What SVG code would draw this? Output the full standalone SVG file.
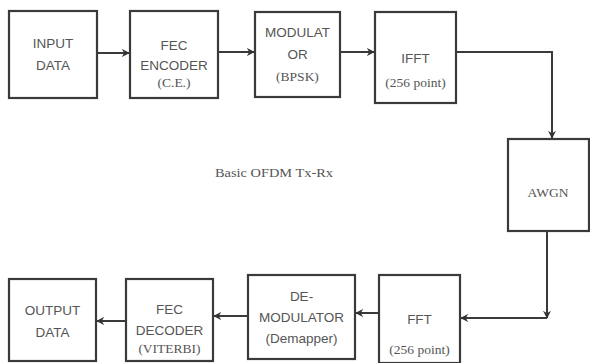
<svg xmlns="http://www.w3.org/2000/svg" width="590" height="363" viewBox="0 0 590 363">
<defs>
<marker id="ah" viewBox="0 0 10 10" refX="9" refY="5" markerWidth="8" markerHeight="8" markerUnits="userSpaceOnUse" orient="auto">
<path d="M0,0 L10,5 L0,10 L3,5 Z" fill="#333"/>
</marker>
<style>
.box{fill:#fff;stroke:#3a3a3a;stroke-width:2.2}
.s{font-family:"Liberation Sans","DejaVu Sans",sans-serif;font-size:13.5px;fill:#555;text-anchor:middle}
.r{font-family:"Liberation Serif","DejaVu Serif",serif;font-size:13.5px;fill:#555;text-anchor:middle}
.c{fill:none;stroke:#3a3a3a;stroke-width:2}
</style>
</defs>
<rect width="590" height="363" fill="#fff"/>
<g id="connectors">
<line class="c" x1="97" y1="53" x2="129" y2="53" marker-end="url(#ah)"/>
<line class="c" x1="218" y1="52" x2="254" y2="52" marker-end="url(#ah)"/>
<line class="c" x1="340" y1="52" x2="374" y2="52" marker-end="url(#ah)"/>
<polyline class="c" points="456,52 552,52 552,138" marker-end="url(#ah)"/>
<line class="c" x1="547" y1="231" x2="547" y2="318" marker-end="url(#ah)"/>
<line class="c" x1="547" y1="318" x2="461" y2="318" marker-end="url(#ah)"/>
<line class="c" x1="379" y1="313" x2="356" y2="313" marker-end="url(#ah)"/>
<line class="c" x1="248" y1="316" x2="214" y2="316" marker-end="url(#ah)"/>
<line class="c" x1="126" y1="321" x2="97" y2="321" marker-end="url(#ah)"/>
</g>
<g id="input">
<rect class="box" x="9" y="11" width="88" height="87"/>
<text class="s" x="53" y="48">INPUT</text>
<text class="s" x="53" y="70">DATA</text>
</g>
<g id="fec-encoder">
<rect class="box" x="130" y="11" width="88" height="87"/>
<text class="s" x="174" y="50">FEC</text>
<text class="s" x="174" y="70">ENCODER</text>
<text class="r" x="174" y="87">(C.E.)</text>
</g>
<g id="modulator">
<rect class="box" x="255" y="12" width="85" height="85"/>
<text class="s" x="297.5" y="37">MODULAT</text>
<text class="s" x="297.5" y="59">OR</text>
<text class="r" x="297.5" y="81">(BPSK)</text>
</g>
<g id="ifft">
<rect class="box" x="375" y="12" width="81" height="91"/>
<text class="s" x="415.5" y="63">IFFT</text>
<text class="r" x="415.5" y="87">(256 point)</text>
</g>
<g id="awgn">
<rect class="box" x="508" y="139" width="81" height="92"/>
<text class="r" x="548" y="197" font-size="14">AWGN</text>
</g>
<text class="r" x="274" y="177" textLength="118" lengthAdjust="spacingAndGlyphs">Basic OFDM Tx-Rx</text>
<g id="fft">
<rect class="box" x="379" y="275" width="81" height="88"/>
<text class="s" x="419.5" y="324">FFT</text>
<text class="r" x="419.5" y="354">(256 point)</text>
</g>
<g id="demodulator">
<rect class="box" x="248" y="275" width="107" height="84"/>
<text class="s" x="301.5" y="301">DE-</text>
<text class="s" x="301.5" y="322">MODULATOR</text>
<text class="s" x="301.5" y="343">(Demapper)</text>
</g>
<g id="fec-decoder">
<rect class="box" x="126" y="279" width="87" height="82"/>
<text class="s" x="169.5" y="314">FEC</text>
<text class="s" x="169.5" y="335">DECODER</text>
<text class="r" x="169.5" y="353">(VITERBI)</text>
</g>
<g id="output">
<rect class="box" x="9" y="279" width="87" height="82"/>
<text class="s" x="52.5" y="315">OUTPUT</text>
<text class="s" x="52.5" y="337">DATA</text>
</g>
</svg>
